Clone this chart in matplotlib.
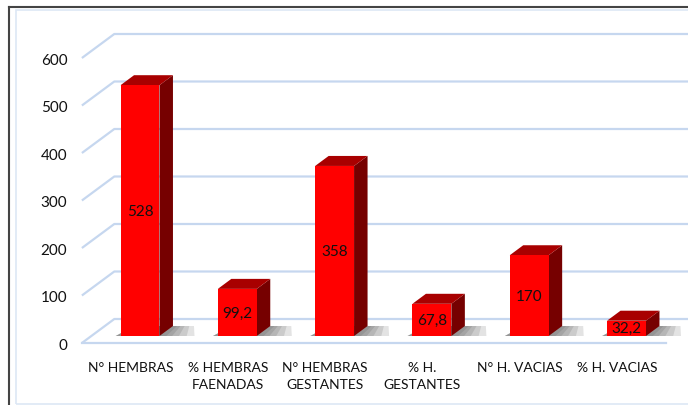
import numpy as np
import matplotlib.pyplot as plt
from matplotlib.patches import Polygon, Rectangle

plt.rcParams['font.family'] = ['Lato', 'DejaVu Sans']

categories = ["N° HEMBRAS", "% HEMBRAS\nFAENADAS", "N° HEMBRAS\nGESTANTES",
              "% H.\nGESTANTES", "N° H. VACIAS", "% H. VACIAS"]
values = [528, 99.2, 358, 67.8, 170, 32.2]
value_labels = ["528", "99,2", "358", "67,8", "170", "32,2"]
yticks = [0, 100, 200, 300, 400, 500, 600]

W, H = 688, 406
fig = plt.figure(figsize=(W / 100, H / 100), dpi=100)
ax = fig.add_axes([0, 0, 1, 1])

# pixel scale of the data axes
px_per_cat = 97.3
px_per_val = 0.475
x0_px, y0_px = 140, 337
ax.set_xlim(-x0_px / px_per_cat, (W - x0_px) / px_per_cat)
ax.set_ylim((y0_px - H) / px_per_val, y0_px / px_per_val)
ax.axis('off')


def depth(d):
    # offset for a depth of d pixels into the picture
    return 1.35 * d / px_per_cat, d / px_per_val


grid_c = '#c6d7ef'
fx, fy = depth(-7)
bx, by = depth(17)
left, right = -0.5, 5.5

# walls: gridlines on the left side wall and back wall
for t in yticks:
    ax.plot([left + fx, left + bx, 7], [t + fy, t + by, t + by],
            color=grid_c, lw=1.6, solid_capstyle='butt', zorder=1)
    ax.text(left + fx - 0.15, t + fy - 4, str(t), ha='right', va='center',
            fontsize=11, color='#111111')
# floor front edge
ax.plot([left + fx, right + fx], [fy, fy], color=grid_c, lw=1.6, zorder=1)

# bars
hw = 0.2
ddx, ddy = depth(10)
for i, v in enumerate(values):
    # soft shadow on the floor, darker close to the bar
    for L in [0.36, 0.28, 0.2, 0.13, 0.07]:
        shadow = [(i - hw - 0.05, 0), (i + hw + L, 0),
                  (i + hw + ddx + 0.6 * L, ddy), (i - hw + ddx, ddy)]
        ax.add_patch(Polygon(shadow, closed=True, facecolor='#3a3a3a',
                             edgecolor='none', alpha=0.14, zorder=2))
    top = [(i - hw, v), (i + hw, v), (i + hw + ddx, v + ddy), (i - hw + ddx, v + ddy)]
    side = [(i + hw, 0), (i + hw + ddx, ddy), (i + hw + ddx, v + ddy), (i + hw, v)]
    ax.add_patch(Polygon(side, closed=True, facecolor='#760000', edgecolor='none', zorder=3))
    ax.add_patch(Polygon(top, closed=True, facecolor='#a80000', edgecolor='none', zorder=3))
    ax.add_patch(Rectangle((i - hw, 0), 2 * hw, v, facecolor='#ff0000',
                           edgecolor='none', zorder=4))
    ax.text(i, v / 2, value_labels[i], ha='center', va='center',
            fontsize=11, color='#111111', zorder=5)
    ax.text(i + fx, -(362 - y0_px) / px_per_val, categories[i], ha='center',
            va='top', fontsize=10, color='#111111', linespacing=1.55)

# outer frames
fig.add_artist(plt.Line2D([9 / W, 9 / W], [0, 1 - 8 / H], color='#444444', lw=1.5))
fig.add_artist(plt.Line2D([9 / W, 1], [1 - 8 / H, 1 - 8 / H], color='#444444', lw=1.5))
fig.add_artist(Rectangle((16 / W, 1 / H), 1, 1 - 11.5 / H, fill=False,
                         edgecolor='#dde7f5', lw=1.2))

fig.savefig('out.png', dpi=100)
